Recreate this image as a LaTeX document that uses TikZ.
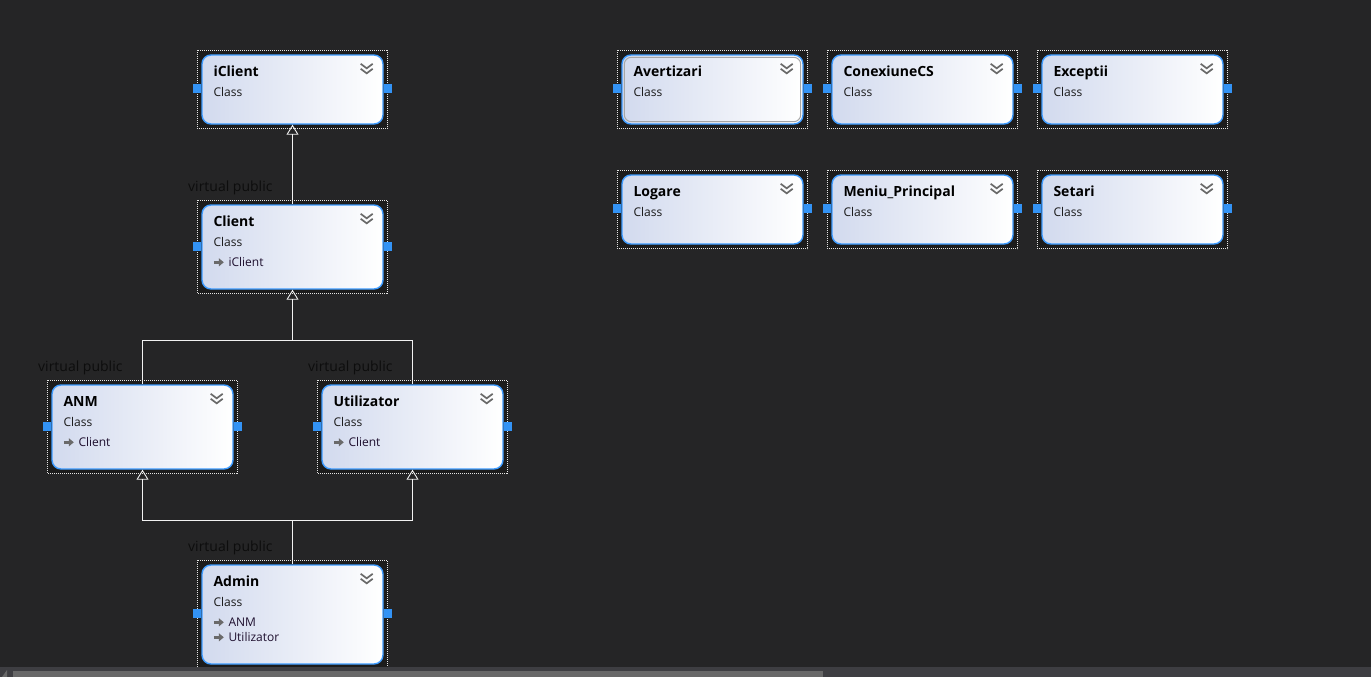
\documentclass[tikz,border=0pt]{standalone}
\usepackage{fontspec}
\setmainfont{Open Sans}
\usetikzlibrary{arrows.meta,backgrounds}
\definecolor{bg}{HTML}{252526}
\definecolor{selfill}{HTML}{1C1C1C}
\definecolor{boxleft}{HTML}{D2DAEE}
\definecolor{boxborder}{HTML}{3D9BFF}
\definecolor{portblue}{HTML}{3393F5}
\definecolor{chevc}{HTML}{6A6A6A}
\definecolor{reftext}{HTML}{1E0F2E}
\definecolor{linec}{HTML}{F2F2F2}
\definecolor{sbtrack}{HTML}{3E3E42}
\definecolor{sbthumb}{HTML}{686868}
\tikzset{
  cls/.style={draw=boxborder, line width=1.4pt, rounded corners=9pt,
    left color=boxleft, right color=white, minimum width=181pt, inner sep=0pt},
  selrect/.style={draw=white!80!gray, fill=selfill, line width=0.9pt, dash pattern=on 1pt off 1pt},
  port/.style={fill=portblue, draw=none, minimum width=8pt, minimum height=9pt, inner sep=0pt},
  ttl/.style={anchor=base west, inner sep=0pt, font=\fontsize{14}{16}\selectfont\bfseries, text=black},
  sub/.style={anchor=base west, inner sep=0pt, font=\fontsize{12}{14}\selectfont, text=black!90},
  reftxt/.style={anchor=base west, inner sep=0pt, font=\fontsize{12}{14}\selectfont, text=reftext},
  vp/.style={anchor=base west, inner sep=0pt, font=\fontsize{14}{16}\selectfont, text=black!95},
  chev/.style={draw=chevc, line width=1.7pt},
  inh/.style={draw=linec, line width=0.9pt, -{Triangle[open, length=10pt, width=12pt, line width=0.9pt]}},
  plainline/.style={draw=linec, line width=0.9pt},
}
\newcommand\clsbox[5]{%
  \node[cls, minimum height=#4pt] (#1) at (#2,#3) {};
  \begin{scope}[on background layer]
    \draw[selrect] ([shift={(-4,-4)}]#1.north west) rectangle ([shift={(4,4)}]#1.south east);
  \end{scope}
  \node[ttl] (#1-t) at ([shift={(12,22)}]#1.north west) {#5};
  \node[sub] (#1-c) at ([shift={(12,42)}]#1.north west) {Class};
  \begin{scope}[shift={(#1.north east)}, shift={(-17,15)}]
    \draw[chev] (-6,-5.5) -- (0,-1) -- (6,-5.5);
    \draw[chev] (-6,-0.5) -- (0,4) -- (6,-0.5);
  \end{scope}
  \node[port] (#1-pl) at ([shift={(-4,-1)}]#1.west) {};
  \node[port] (#1-pr) at ([shift={(4,-1)}]#1.east) {};
}
\newcommand\reflin[3]{%
  \begin{scope}[shift={(#1.north west)}, shift={(12,#2)}]
    \draw[chevc, line width=2.4pt, -{Triangle[length=5pt, width=8pt]}] (0.5,-4) -- (10.5,-4);
  \end{scope}
  \node[reftxt] at ([shift={(27,#2)}]#1.north west) {#3};
}
\begin{document}
\begin{tikzpicture}[x=1pt, y=-1pt]
\begin{scope}[on background layer]
\fill[bg] (0,0) rectangle (1371,677);
\end{scope}
\useasboundingbox (0,0) rectangle (1371,677);

% left hierarchy
\clsbox{iClient}{292.5}{89.5}{69}{iClient}
\clsbox{Client}{292.5}{247}{84}{Client}
\reflin{Client}{62}{iClient}
\clsbox{ANM}{142.5}{427}{84}{ANM}
\reflin{ANM}{62}{Client}
\clsbox{Utilizator}{412.5}{427}{84}{Utilizator}
\reflin{Utilizator}{62}{Client}
\clsbox{Admin}{292.5}{614.5}{99}{Admin}
\reflin{Admin}{62}{ANM}
\reflin{Admin}{77}{Utilizator}

% right grid
\clsbox{Avertizari}{712.5}{89.5}{69}{Avertizari}
\draw[gray!70, line width=1pt, rounded corners=7pt]
  ([shift={(3,3)}]Avertizari.north west) rectangle ([shift={(-3,-3)}]Avertizari.south east);
\clsbox{ConexiuneCS}{922.5}{89.5}{69}{ConexiuneCS}
\clsbox{Exceptii}{1132.5}{89.5}{69}{Exceptii}
\clsbox{Logare}{712.5}{209.5}{69}{Logare}
\clsbox{MeniuPrincipal}{922.5}{209.5}{69}{Meniu\_Principal}
\clsbox{Setari}{1132.5}{209.5}{69}{Setari}

% connectors
\coordinate (j1) at (292.5,340);
\coordinate (j2) at (292.5,520);
\draw[inh] (Client.north) -- (iClient.south);
\draw[inh] (ANM.north) |- (j1) -- (Client.south);
\draw[plainline] (Utilizator.north) |- (j1);
\draw[inh] (Admin.north) -- (j2) -| (ANM.south);
\draw[inh] (j2) -| (Utilizator.south);

% labels
\node[vp] (vp1) at (188,191) {virtual public};
\node[vp] (vp2) at (38,371) {virtual public};
\node[vp] (vp3) at (308,371) {virtual public};
\node[vp] (vp4) at (188,551) {virtual public};

% scrollbar
\fill[sbtrack] (0,667) rectangle (1371,677);
\fill[sbthumb] (13,671) rectangle (823,677);
\fill[sbthumb] (2,677) -- (7,670) -- (7,677) -- cycle;
\end{tikzpicture}
\end{document}
